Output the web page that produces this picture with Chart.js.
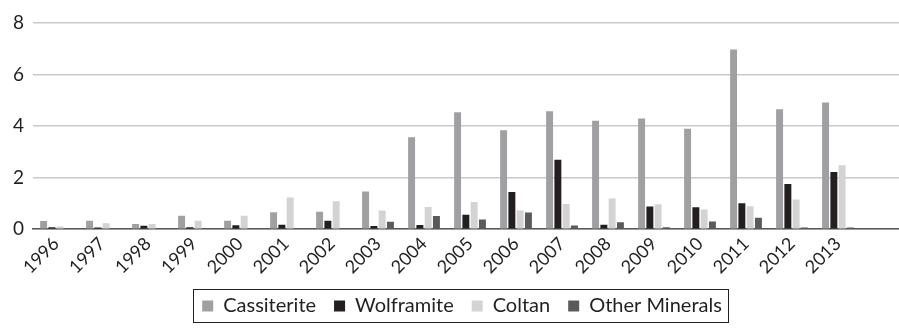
<!DOCTYPE html>
<html>
<head>
<meta charset="utf-8">
<script src="https://cdn.jsdelivr.net/npm/chart.js@4/dist/chart.umd.min.js"></script>
<style>
  html, body { margin: 0; padding: 0; background: #fff; overflow: hidden; }
  /* the plot runs a few pixels past the right edge of the page */
  #wrap { width: 907px; height: 328px; }
</style>
</head>
<body>
<div id="wrap"><canvas id="minerals"></canvas></div>
<script>
// Years on the x axis (last slot left empty)
const years = ["1996", "1997", "1998", "1999", "2000", "2001", "2002", "2003", "2004",
  "2005", "2006", "2007", "2008", "2009", "2010", "2011", "2012", "2013", ""];

const cassiterite = [0.32, 0.33, 0.2, 0.52, 0.33, 0.66, 0.68, 1.46, 3.57, 4.54, 3.84, 4.58, 4.21, 4.29, 3.9, 6.97, 4.65, 4.92];
const wolframite = [0.08, 0.07, 0.13, 0.08, 0.15, 0.17, 0.33, 0.12, 0.16, 0.56, 1.44, 2.69, 0.17, 0.88, 0.85, 1.01, 1.75, 2.22];
const coltan = [0.1, 0.23, 0.2, 0.33, 0.52, 1.23, 1.08, 0.73, 0.86, 1.06, 0.73, 0.98, 1.19, 0.97, 0.76, 0.89, 1.15, 2.48];
const otherMinerals = [0.01, 0.01, 0.01, 0.01, 0.01, 0.01, 0.01, 0.29, 0.51, 0.38, 0.65, 0.14, 0.27, 0.08, 0.3, 0.44, 0.07, 0.07];

const yTicks = [0, 2, 4, 6, 8];

const FONT = "Lato, 'Open Sans', sans-serif";
Chart.defaults.font.family = FONT;
Chart.defaults.color = "#231f20";

// nudges the legend left and draws a thin frame round its items
const legendFrame = {
  id: "legendFrame",
  afterLayout(chart) {
    const lg = chart.legend;
    if (!lg) return;
    lg.left -= 8;
    lg.right -= 8;
  },
  afterDraw(chart) {
    const lg = chart.legend;
    if (!lg || !lg.legendHitBoxes || !lg.legendHitBoxes.length) return;
    const boxes = lg.legendHitBoxes;
    const left = Math.min(...boxes.map(b => b.left)) - 9;
    const right = Math.max(...boxes.map(b => b.left + b.width)) + 6;
    const top = Math.min(...boxes.map(b => b.top)) - 7;
    const bottom = Math.max(...boxes.map(b => b.top + b.height)) + 6;
    const ctx = chart.ctx;
    ctx.save();
    ctx.strokeStyle = "#231f20";
    ctx.lineWidth = 1;
    ctx.strokeRect(Math.round(left) + 0.5, Math.round(top) + 0.5, Math.round(right - left), Math.round(bottom - top));
    ctx.restore();
  }
};

function series(label, data, color) {
  return {
    label: label,
    data: data,
    backgroundColor: color,
    borderWidth: 0,
    categoryPercentage: 0.72,
    barPercentage: 0.84
  };
}

new Chart(document.getElementById("minerals"), {
  type: "bar",
  data: {
    labels: years,
    datasets: [
      series("Cassiterite", cassiterite, "#a0a0a3"),
      series("Wolframite", wolframite, "#231f20"),
      series("Coltan", coltan, "#d3d3d5"),
      series("Other Minerals", otherMinerals, "#5a5a5c")
    ]
  },
  options: {
    responsive: true,
    maintainAspectRatio: false,
    animation: false,
    layout: { padding: { top: 23, right: 0, bottom: 2, left: 4 } },
    scales: {
      x: {
        grid: { display: false, drawTicks: false },
        border: { color: "#58585a", width: 1.5 },
        afterFit(axis) { axis.height -= 4; },
        ticks: {
          minRotation: 45,
          maxRotation: 45,
          autoSkip: false,
          padding: 4,
          font: { size: 18 }
        }
      },
      y: {
        min: 0,
        max: 8,
        afterBuildTicks(axis) {
          axis.ticks = yTicks.map(v => ({ value: v }));
        },
        grid: { color: "#c9c9cb", lineWidth: 1.5, drawTicks: false },
        border: { display: false },
        ticks: { padding: 9, font: { size: 19 } }
      }
    },
    plugins: {
      legend: {
        position: "bottom",
        fullSize: false,
        labels: {
          boxWidth: 11,
          boxHeight: 11,
          padding: 18,
          font: { size: 20 }
        }
      },
      tooltip: { enabled: false }
    }
  },
  plugins: [legendFrame]
});
</script>
</body>
</html>
